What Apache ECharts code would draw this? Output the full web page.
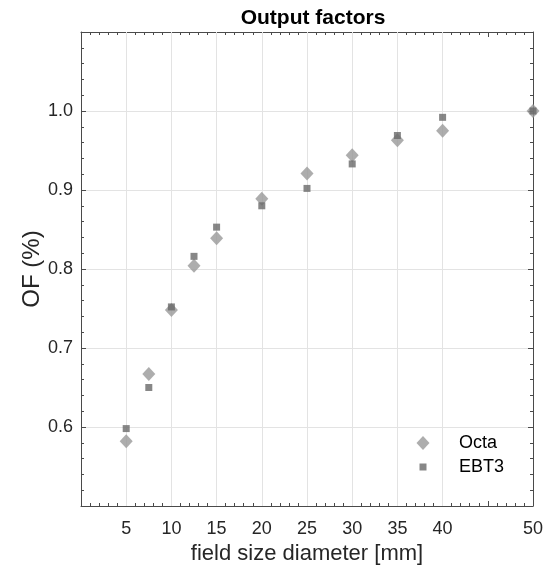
<!DOCTYPE html>
<html>
<head>
<meta charset="utf-8">
<script src="https://cdn.jsdelivr.net/npm/echarts@6/dist/echarts.min.js"></script>
<style>
  html, body { margin: 0; padding: 0; background: #fff; }
  #chart { width: 548px; height: 572px; }
</style>
</head>
<body>
<div id="chart"></div>
<script>
// field size diameters [mm]
const fieldSize = [5, 7.5, 10, 12.5, 15, 20, 25, 30, 35, 40, 50];
const octaOF = [0.582, 0.667, 0.748, 0.804, 0.839, 0.889, 0.921, 0.944, 0.963, 0.975, 1.0];
const ebt3OF = [0.598, 0.650, 0.752, 0.816, 0.853, 0.880, 0.902, 0.933, 0.969, 0.992, 1.0];
// x tick labels / vertical grid lines actually shown in the picture
const xTickLabels = [5, 10, 15, 20, 25, 30, 35, 40, 50];
const xGridLines = [5, 10, 15, 20, 25, 30, 35, 40];
const yTickLabels = [0.6, 0.7, 0.8, 0.9, 1.0];

const font = 'Liberation Sans, Arial, sans-serif';
const axisColor = '#4a4a4a';
const gridColor = '#e3e3e3';

const zip = (xs, ys) => xs.map((x, i) => [x, ys[i]]);

const baseX = {
    type: 'value', min: 0, max: 50, interval: 5,
    axisLine: { show: true, onZero: false, lineStyle: { color: axisColor, width: 1 } },
    axisTick: { show: true, inside: true, length: 5, lineStyle: { color: axisColor } },
    minorTick: { show: true, splitNumber: 5, length: 3, lineStyle: { color: axisColor } },
    splitLine: { show: false },
};
const baseY = {
    type: 'value', min: 0.5, max: 1.1, interval: 0.1,
    axisLine: { show: true, onZero: false, lineStyle: { color: axisColor, width: 1 } },
    axisTick: { show: true, inside: true, length: 5, lineStyle: { color: axisColor } },
    minorTick: { show: true, splitNumber: 5, length: 3, lineStyle: { color: axisColor } },
};

const chart = echarts.init(document.getElementById('chart'));
const option = {
    animation: false,
    backgroundColor: '#fff',
    title: {
        text: 'Output factors',
        left: 308, top: 3, textAlign: 'center',
        textStyle: { fontFamily: font, fontSize: 21, fontWeight: 'bold', color: '#000' },
    },
    grid: { left: 81, right: 15, top: 32, bottom: 66 },
    xAxis: [
        Object.assign({}, baseX, {
            position: 'bottom',
            name: 'field size diameter [mm]', nameLocation: 'middle', nameGap: 37,
            nameTextStyle: { fontFamily: font, fontSize: 22, color: '#262626' },
            axisLabel: {
                fontFamily: font, fontSize: 18, color: '#262626', margin: 14,
                showMinLabel: true, showMaxLabel: true,
                formatter: v => xTickLabels.indexOf(v) >= 0 ? String(v) : '',
            },
        }),
        Object.assign({}, baseX, { position: 'top', axisLabel: { show: false } }),
    ],
    yAxis: [
        Object.assign({}, baseY, {
            position: 'left',
            name: 'OF (%)', nameLocation: 'middle', nameGap: 37, nameRotate: 90,
            nameMoveOverlap: false,
            nameTextStyle: { fontFamily: font, fontSize: 24, color: '#262626' },
            axisLabel: {
                fontFamily: font, fontSize: 18, color: '#262626', margin: 8,
                formatter: v => {
                    const r = Math.round(v * 10) / 10;
                    return yTickLabels.indexOf(r) >= 0 ? r.toFixed(1) : '';
                },
            },
            splitLine: { show: true, lineStyle: { color: gridColor, width: 1 } },
        }),
        Object.assign({}, baseY, { position: 'right', axisLabel: { show: false }, splitLine: { show: false } }),
    ],
    legend: [
        {
            data: [{ name: 'Octa', icon: 'diamond' }],
            left: 416.5, top: 434, padding: 0, itemWidth: 13, itemHeight: 14, itemGap: 0,
            textStyle: { fontFamily: font, fontSize: 18, color: '#000', padding: [0, 0, 0, 24.5] },
        },
        {
            data: [{ name: 'EBT3', icon: 'rect' }],
            left: 419.5, top: 458, padding: 0, itemWidth: 7, itemHeight: 7, itemGap: 0,
            textStyle: { fontFamily: font, fontSize: 18, color: '#000', padding: [0, 0, 0, 27.5] },
        },
    ],
    series: [
        {
            name: 'grid', type: 'line', data: [], silent: true, z: 1,
            markLine: {
                silent: true, symbol: ['none', 'none'], animation: false, z: 1,
                label: { show: false },
                lineStyle: { color: gridColor, width: 1, type: 'solid' },
                data: xGridLines.map(x => ({ xAxis: x })),
            },
        },
        {
            name: 'Octa', type: 'scatter', z: 10,
            symbol: 'diamond', symbolSize: [13, 14],
            itemStyle: { color: '#999999' },
            data: zip(fieldSize, octaOF),
        },
        {
            name: 'EBT3', type: 'scatter', z: 11,
            symbol: 'rect', symbolSize: 7,
            itemStyle: { color: '#696969' },
            data: zip(fieldSize, ebt3OF),
        },
    ],
};
chart.setOption(option);
</script>
</body>
</html>
